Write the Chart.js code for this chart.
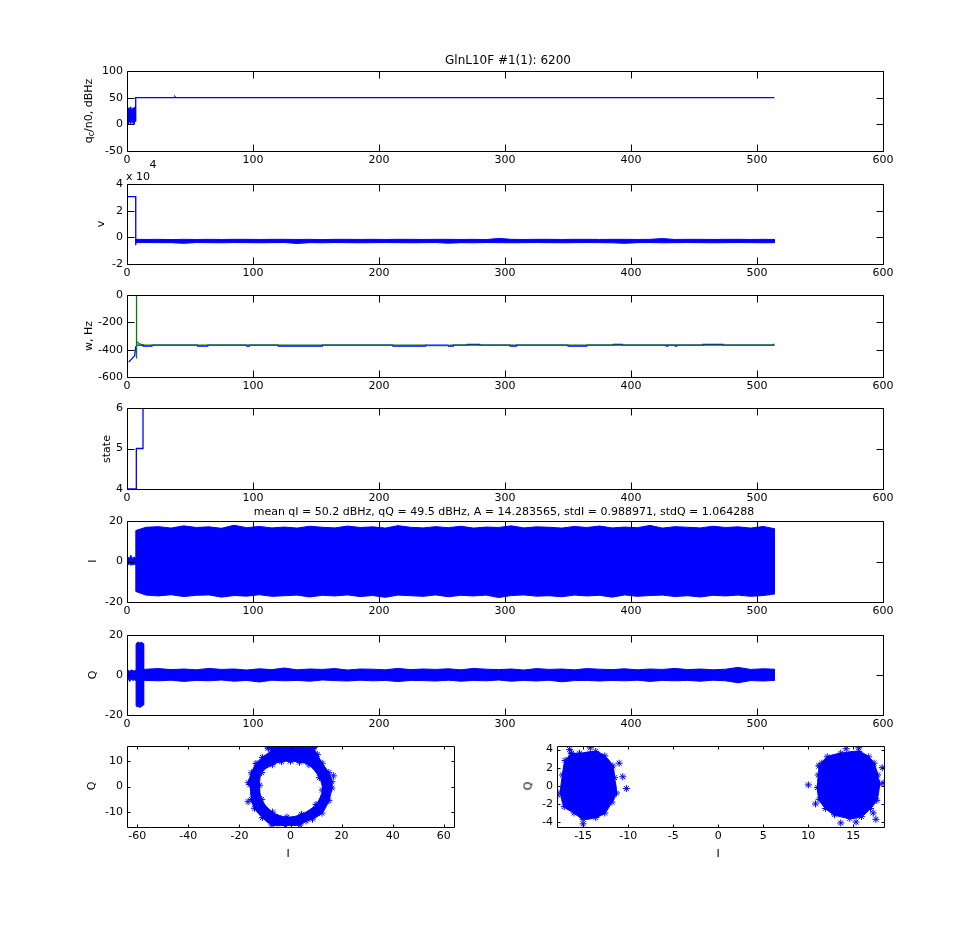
<!DOCTYPE html>
<html>
<head>
<meta charset="utf-8">
<script src="https://cdn.jsdelivr.net/npm/chart.js@4.4.1/dist/chart.umd.min.js"></script>
<style>
  body { margin: 0; background: #fff; }
  #fig { position: relative; width: 976px; height: 930px; overflow: hidden; background: #fff;
         font-family: "DejaVu Sans", sans-serif; color: #000; }
  #fig canvas { position: absolute; }
  .txt { position: absolute; white-space: nowrap; font-size: 11px; line-height: 1;
         transform: translate(-50%, -50%); z-index: 5; }
  .rot { transform: translate(-50%, -50%) rotate(-90deg); }
  .title { font-size: 11px; }
  sub { font-size: 8px; vertical-align: -2px; }
</style>
</head>
<body>
<div id="fig">
  <div class="txt title" style="left:508px;top:60px;font-size:12px">GlnL10F #1(1): 6200</div>
  <div class="txt rot" style="left:89px;top:111px">q<sub>c</sub>/n0, dBHz</div>
  <div class="txt" style="left:138px;top:176px">x 10</div>
  <div class="txt" style="left:153px;top:164px">4</div>
  <div class="txt rot" style="left:100px;top:224px">v</div>
  <div class="txt rot" style="left:88px;top:336px">w, Hz</div>
  <div class="txt rot" style="left:106px;top:449px">state</div>
  <div class="txt title" style="left:504px;top:511px">mean qI = 50.2 dBHz, qQ = 49.5 dBHz, A = 14.283565, stdI = 0.988971, stdQ = 1.064288</div>
  <div class="txt rot" style="left:92px;top:561px">I</div>
  <div class="txt rot" style="left:92px;top:675px">Q</div>
  <div class="txt rot" style="left:91px;top:786px">Q</div>
  <div class="txt" style="left:288px;top:853px">I</div>
  <div class="txt rot" style="left:528px;top:786px">Q</div>
  <div class="txt" style="left:718px;top:853px">I</div>
</div>

<script>
// ─── Data ─────────────────────────────────────────────────────────
// tick labels
const xTicksTime  = [0, 100, 200, 300, 400, 500, 600];
const yTicksCn0   = [-50, 0, 50, 100];
const yTicksV     = [-2, 0, 2, 4];
const yTicksW     = [-600, -400, -200, 0];
const yTicksState = [4, 5, 6];
const yTicksIQ    = [-20, 0, 20];
const xTicksRing  = [-60, -40, -20, 0, 20, 40, 60];
const yTicksRing  = [-10, 0, 10];
const xTicksBpsk  = [-15, -10, -5, 0, 5, 10, 15];
const yTicksBpsk  = [-4, -2, 0, 2, 4];

// qc/n0 (dBHz): noisy start, then flat
const cn0PreX  = [0.3, 1.1, 2.0, 2.9, 3.8, 4.7, 5.6, 6.5, 6.9];
const cn0PreHi = [27, 31, 29, 33, 25, 31, 30, 33, 29];
const cn0PreLo = [4, 0, 7, 0, 9, 2, 0, 8, 6];
const cn0X     = [6.9, 6.9, 37.6, 38.0, 38.4, 513.8];
const cn0Y     = [6, 50, 50, 51.5, 50, 50];

// sample positions of the dense-signal envelopes (time)
const envX = [7.0, 15, 25, 35, 45, 55, 65, 75, 85, 95, 105, 115, 125, 135, 145, 155, 165, 175,
  185, 195, 205, 215, 225, 235, 245, 255, 265, 275, 285, 295, 305, 315, 325, 335, 345, 355,
  365, 375, 385, 395, 405, 415, 425, 435, 445, 455, 465, 475, 485, 495, 505, 513.8];

// v (x 10^4)
const vStepX = [0, 6.9, 6.9, 7.0];
const vStepY = [3.05, 3.05, -0.6, -0.3];
const vHi = [-0.15, -0.16, -0.15, -0.17, -0.15, -0.16, -0.15, -0.16, -0.15, -0.15,
  -0.16, -0.15, -0.15, -0.16, -0.15, -0.17, -0.15, -0.15, -0.16, -0.15,
  -0.16, -0.15, -0.15, -0.16, -0.15, -0.15, -0.16, -0.15, -0.17, -0.08,
  -0.15, -0.16, -0.15, -0.15, -0.16, -0.15, -0.15, -0.16, -0.15, -0.15,
  -0.16, -0.15, -0.09, -0.16, -0.15, -0.15, -0.16, -0.15, -0.15, -0.16, -0.15, -0.16];
const vLo = [-0.40, -0.39, -0.40, -0.40, -0.45, -0.39, -0.40, -0.41, -0.39, -0.40,
  -0.41, -0.40, -0.39, -0.46, -0.40, -0.41, -0.39, -0.40, -0.41, -0.40,
  -0.39, -0.40, -0.41, -0.40, -0.39, -0.44, -0.40, -0.41, -0.39, -0.40,
  -0.41, -0.40, -0.39, -0.40, -0.41, -0.40, -0.39, -0.40, -0.41, -0.45,
  -0.40, -0.39, -0.41, -0.40, -0.39, -0.40, -0.41, -0.40, -0.39, -0.40, -0.41, -0.40];

// w, Hz (blue and green traces)
const wBlueX = [1.4, 3, 4.5, 6.1, 6.9, 8,
  12.6, 12.7, 19.8, 19.9, 56, 56.1, 64, 64.1, 95, 95.1, 97, 97.1,
  120, 120.1, 155, 155.1, 211, 211.1, 237, 237.1, 255, 255.1, 259, 259.1,
  270, 270.1, 280, 280.1, 304, 304.1, 309, 309.1, 350, 350.1, 365, 365.1,
  386, 386.1, 393, 393.1, 428, 428.1, 429, 429.1, 435, 435.1, 436, 436.1,
  457, 457.1, 473, 473.1, 513, 513.1, 513.8];
const wBlueY = [-490, -475, -460, -445, -380, -367,
  -367, -373, -373, -367, -367, -373, -373, -367, -367, -373, -373, -367,
  -367, -373, -373, -367, -367, -373, -373, -367, -367, -373, -373, -367,
  -367, -361, -361, -367, -367, -373, -373, -367, -367, -373, -373, -367,
  -367, -361, -361, -367, -367, -373, -373, -367, -367, -373, -373, -367,
  -367, -361, -361, -367, -367, -361, -361];
const wGreenX = [7.3, 7.4, 7.6, 7.7, 8.5, 9.5, 11.4, 14, 237, 238, 256, 257, 513.8];
const wGreenY = [-462, 0, 0, -340, -348, -355, -362, -367, -367, -371, -371, -367, -367];

// tracking state
const stateX = [0, 7.4, 7.4, 12.7, 12.7, 513.8];
const stateY = [4, 4, 5, 5, 6, 6];

// I channel
const iPreX  = [0.3, 1.2, 2.1, 3.0, 3.9, 4.8, 5.7, 6.6, 7.0];
const iPreHi = [1.4, 2.0, 1.6, 3.1, 1.9, 1.5, 2.3, 1.7, 1.5];
const iPreLo = [-1.1, -1.7, -1.0, -1.9, -1.3, -1.8, -1.2, -1.6, -1.5];
const iHi = [15.3, 16.9, 17.2, 16.5, 17.6, 16.8, 17.1, 16.4, 17.9, 16.7,
  17.3, 16.6, 17.0, 16.5, 17.4, 16.9, 16.6, 17.5, 16.8, 17.1,
  16.5, 17.7, 16.9, 16.6, 17.2, 16.7, 17.4, 16.5, 17.0, 16.8,
  17.6, 16.6, 17.1, 16.9, 16.5, 17.3, 16.8, 17.5, 16.6, 17.0,
  16.7, 17.8, 16.5, 17.2, 16.9, 16.6, 17.4, 16.8, 17.1, 16.5, 17.3, 16.2];
const iLo = [-14.8, -16.6, -17.0, -16.4, -17.3, -16.7, -16.5, -17.6, -16.8, -17.1,
  -16.4, -17.2, -16.9, -16.6, -17.5, -16.7, -17.0, -16.5, -17.3, -16.8,
  -17.7, -16.6, -16.9, -17.2, -16.5, -17.4, -16.7, -17.0, -16.6, -17.8,
  -16.8, -16.5, -17.1, -16.9, -17.4, -16.6, -17.0, -16.7, -17.6, -16.5,
  -17.2, -16.8, -16.6, -17.3, -16.9, -17.5, -16.7, -17.0, -16.6, -17.2, -16.8, -16.1];

// Q channel
const qPreHi   = [1.8, 2.4, 1.9, 2.2, 2.6, 1.9, 2.3, 2.0, 1.9];
const qPreLo   = [-2.6, -2.1, -3.3, -2.4, -2.0, -2.9, -2.3, -2.7, -2.2];
const qSpikeX  = [7.2, 8.0, 9.0, 10.0, 11.0, 12.0, 13.2];
const qSpikeHi = [15.4, 16.2, 16.5, 16.0, 16.4, 16.1, 15.6];
const qSpikeLo = [-15.2, -16.0, -15.7, -16.3, -15.9, -15.5, -15.0];
const qHi = [2.4, 2.9, 3.2, 2.7, 3.0, 2.6, 3.3, 2.8, 3.0, 2.5,
  3.1, 2.7, 3.5, 2.6, 3.0, 2.8, 3.2, 2.5, 3.0, 2.9,
  2.6, 3.3, 2.7, 3.0, 2.8, 3.1, 2.6, 3.3, 2.9, 2.7,
  3.0, 2.5, 3.2, 2.8, 3.0, 2.6, 3.2, 2.9, 2.7, 3.1,
  2.6, 3.0, 2.8, 3.3, 2.7, 3.0, 2.6, 2.9, 3.8, 2.8, 3.1, 2.9];
const qLo = [-2.3, -2.7, -2.9, -2.6, -3.2, -2.7, -2.9, -2.5, -3.1, -2.7,
  -3.5, -2.6, -2.9, -2.7, -3.1, -2.5, -2.8, -3.0, -2.6, -2.9,
  -2.7, -3.3, -2.7, -2.8, -3.0, -2.6, -3.1, -2.7, -2.9, -2.5,
  -3.1, -2.7, -3.0, -2.6, -3.4, -2.8, -2.7, -3.0, -2.7, -2.9,
  -2.6, -3.2, -2.7, -2.9, -2.7, -3.1, -2.6, -2.9, -3.9, -2.8, -3.0, -2.7];

// I/Q constellation before phase lock (ring), outer and inner edge
const ringOutI = [-8.7, -4, 0, 4, 8.8, 10.5, 12.4, 15.0, 16.2, 16.2, 15.0, 12.3, 8.6, 6.1, 3.7,
  -2, -7.3, -11.0, -14.1, -15.3, -15.9, -16.5, -15.3, -13.5, -11.0, -7.3];
const ringOutQ = [15.2, 15.5, 15.3, 15.6, 15.0, 12.6, 9.2, 5.5, 1.9, -0.6, -5.6, -10.5, -12.9, -13.6, -15.2,
  -15.4, -15.2, -12.3, -8.6, -5.1, 0.8, 1.5, 5.4, 9.1, 11.5, 14.5];
const ringInI = [0, 3.5, 7.2, 11.3, 12.5, 10, 4.3, -1.4, -7.1, -11.3, -12.1, -11.3, -7.1, -3.5];
const ringInQ = [10.1, 9.6, 8.6, 3.5, -1.4, -7.1, -11, -12.1, -10.1, -5.1, 0.5, 5.5, 8.6, 9.8];
const ringStarI = [-8.3, -16.6, 9.2, 16.8];
const ringStarQ = [5.6, -6.0, 15.4, 4.2];

// I/Q constellation after lock (two clusters)
const leftI  = [-16.3, -15.4, -13.6, -12.6, -11.7, -11.5, -11.3, -11.8, -12.6, -13.6, -15.0, -16.0, -17.1, -17.5, -17.3, -17.0];
const leftQ  = [3.6, 3.6, 3.8, 3.3, 2.2, 0.9, -0.8, -1.8, -3.0, -3.5, -3.7, -3.0, -2.3, -0.7, 1.2, 2.8];
const rightI = [11.2, 12.1, 13.6, 15.6, 16.7, 17.3, 17.7, 17.9, 17.6, 16.9, 15.9, 14.6, 12.9, 11.9, 11.2, 11.0, 11.1];
const rightQ = [2.2, 3.2, 3.6, 3.8, 3.2, 2.5, 1.2, 0.2, -1.6, -2.5, -3.4, -3.6, -3.2, -2.5, -1.5, -0.2, 1.2];
const bpskStarI = [-16.5, -14.2, -11.0, -10.6, -10.2, -15.0, -17.8, 10.0, 10.8, 18.2, 17.2, 14.2, 15.6, 13.6, 15.3, 17.5, 18.3, 11.5];
const bpskStarQ = [4.0, 4.2, 2.5, 1.0, -0.3, -4.2, -1.0, 0.1, -2.0, 2.0, -3.0, 4.1, 4.2, -4.1, -4.0, -3.7, 0.3, 2.5];

// ─── Layout ───────────────────────────────────────────────────────
const BLUE = '#0000ff';
const GREEN = '#008000';
const PAD = { l: 60, r: 30, t: 12, b: 24 };

Chart.defaults.font.family = "'DejaVu Sans', sans-serif";
Chart.defaults.font.size = 11;
Chart.defaults.color = '#000';

// box round the axes with inward ticks on all four sides (matlab style)
const boxTicks = {
  id: 'boxTicks',
  afterDatasetsDraw(chart, args, opts) {
    const { ctx, chartArea: a, scales: { x, y } } = chart;
    const len = opts.len || 7;
    const L = Math.round(a.left) + 0.5, R = Math.round(a.right) + 0.5;
    const T = Math.round(a.top) + 0.5, B = Math.round(a.bottom) + 0.5;
    ctx.save();
    ctx.strokeStyle = '#000';
    ctx.lineWidth = 1;
    ctx.beginPath();
    ctx.rect(L, T, R - L, B - T);
    x.ticks.forEach(t => {
      const px = Math.round(x.getPixelForValue(t.value)) + 0.5;
      ctx.moveTo(px, B); ctx.lineTo(px, B - len);
      ctx.moveTo(px, T); ctx.lineTo(px, T + len);
    });
    y.ticks.forEach(t => {
      const py = Math.round(y.getPixelForValue(t.value)) + 0.5;
      ctx.moveTo(L, py); ctx.lineTo(L + len, py);
      ctx.moveTo(R, py); ctx.lineTo(R - len, py);
    });
    ctx.stroke();
    ctx.restore();
  }
};

function pts(xs, ys) {
  return xs.map((x, i) => ({ x, y: ys[i] }));
}

function lineDs(xs, ys, color) {
  return { data: pts(xs, ys), borderColor: color, borderWidth: 1.3, pointRadius: 0, fill: false, tension: 0 };
}

// filled band between an upper and a lower envelope
function bandDs(xs, hi, lo, color) {
  const ring = pts(xs, hi).concat(pts(xs, lo).reverse());
  ring.push(ring[0]);
  return { data: ring, borderColor: color, backgroundColor: color, borderWidth: 1, pointRadius: 0, fill: 'shape' };
}

// closed outline drawn with '*' markers, filled inside
function blobDs(xs, ys, fillColor) {
  const p = pts(xs, ys);
  p.push(p[0]);
  return {
    data: p, borderColor: BLUE, backgroundColor: fillColor, borderWidth: 1, fill: 'shape', tension: 0.3,
    pointStyle: 'star', pointRadius: 3.5, pointBorderColor: BLUE, pointBorderWidth: 1, clip: 0
  };
}

function starDs(xs, ys) {
  return {
    data: pts(xs, ys), showLine: false, pointStyle: 'star', pointRadius: 3.5,
    pointBorderColor: BLUE, pointBorderWidth: 1, borderColor: BLUE, clip: 0
  };
}

function axis(min, max, ticks, pos) {
  return {
    type: 'linear', position: pos, min, max,
    grid: { display: false, drawTicks: false },
    border: { display: false },
    ticks: { padding: pos === 'left' ? 4 : 3, autoSkip: false, maxRotation: 0, callback: v => String(v) },
    afterBuildTicks: s => { s.ticks = ticks.map(v => ({ value: v })); },
    afterFit: s => { if (pos === 'left') s.width = PAD.l; else s.height = PAD.b; }
  };
}

function panel(rect, xAxis, yAxis, datasets, tickLen) {
  const c = document.createElement('canvas');
  const w = rect.w + PAD.l + PAD.r, h = rect.h + PAD.t + PAD.b;
  c.width = w; c.height = h;
  c.style.width = w + 'px'; c.style.height = h + 'px';
  c.style.left = (rect.x - PAD.l) + 'px';
  c.style.top = (rect.y - PAD.t) + 'px';
  document.getElementById('fig').appendChild(c);

  return new Chart(c, {
    type: 'line',
    data: { datasets },
    options: {
      responsive: false,
      animation: false,
      events: [],
      layout: { padding: { left: 0, right: PAD.r, top: PAD.t, bottom: 0 } },
      plugins: { legend: { display: false }, tooltip: { enabled: false }, boxTicks: { len: tickLen } },
      scales: { x: xAxis, y: yAxis }
    },
    plugins: [boxTicks]
  });
}

function timeAxis() {
  return axis(0, 600, xTicksTime, 'bottom');
}

// ─── Panels ───────────────────────────────────────────────────────
panel({ x: 127, y: 71, w: 756, h: 80 }, timeAxis(), axis(-50, 100, yTicksCn0, 'left'), [
  bandDs(cn0PreX, cn0PreHi, cn0PreLo, BLUE),
  lineDs(cn0X, cn0Y, BLUE)
], 7);

panel({ x: 127, y: 184, w: 756, h: 80 }, timeAxis(), axis(-2, 4, yTicksV, 'left'), [
  lineDs(vStepX, vStepY, BLUE),
  bandDs(envX, vHi, vLo, BLUE)
], 7);

panel({ x: 127, y: 295, w: 756, h: 82 }, timeAxis(), axis(-600, 0, yTicksW, 'left'), [
  lineDs(wGreenX, wGreenY, GREEN),
  lineDs(wBlueX, wBlueY, BLUE)
], 7);

panel({ x: 127, y: 408, w: 756, h: 81 }, timeAxis(), axis(4, 6, yTicksState, 'left'), [
  lineDs(stateX, stateY, BLUE)
], 7);

panel({ x: 127, y: 521, w: 756, h: 81 }, timeAxis(), axis(-20, 20, yTicksIQ, 'left'), [
  bandDs(iPreX, iPreHi, iPreLo, BLUE),
  bandDs(envX, iHi, iLo, BLUE)
], 7);

panel({ x: 127, y: 635, w: 756, h: 80 }, timeAxis(), axis(-20, 20, yTicksIQ, 'left'), [
  bandDs(qSpikeX, qSpikeHi, qSpikeLo, BLUE),
  bandDs(iPreX, qPreHi, qPreLo, BLUE),
  bandDs(envX, qHi, qLo, BLUE)
], 7);

// ring: the white inner blob is drawn on top of the blue outer one
const inner = blobDs(ringInI, ringInQ, '#fff');
inner.order = 0;
const outer = blobDs(ringOutI, ringOutQ, BLUE);
outer.order = 1;
const ringStars = starDs(ringStarI, ringStarQ);
ringStars.order = 0;
panel({ x: 127, y: 746, w: 327, h: 81 }, axis(-64, 64, xTicksRing, 'bottom'), axis(-16, 16, yTicksRing, 'left'), [
  inner, outer, ringStars
], 3);

panel({ x: 557, y: 746, w: 327, h: 81 }, axis(-17.9, 18.4, xTicksBpsk, 'bottom'), axis(-4.55, 4.4, yTicksBpsk, 'left'), [
  blobDs(leftI, leftQ, BLUE),
  blobDs(rightI, rightQ, BLUE),
  starDs(bpskStarI, bpskStarQ)
], 3);
</script>
</body>
</html>
